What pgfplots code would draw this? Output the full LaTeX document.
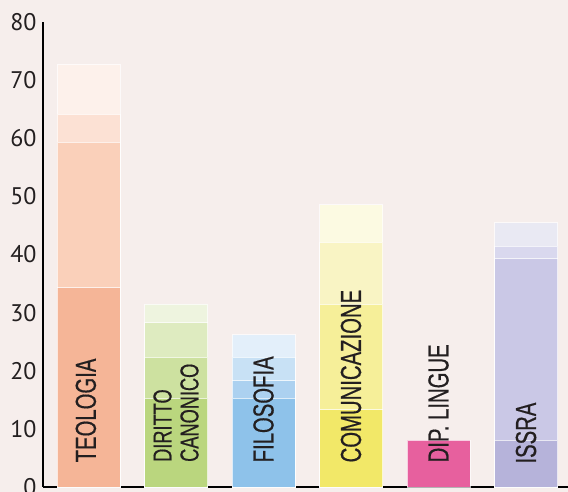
\documentclass[border=0pt]{standalone}
\usepackage{pgfplots}
\pgfplotsset{compat=1.18}
\usepackage{fontspec}
\setmainfont{PT Sans}
\newfontfamily\cond[FakeStretch=0.7,FakeBold=0.4]{Liberation Sans}
\definecolor{bgc}{HTML}{F6EEEC}
\definecolor{txt}{HTML}{231F20}
% Teologia
\definecolor{teoA}{HTML}{F5B597}
\definecolor{teoB}{HTML}{FAD0BA}
\definecolor{teoC}{HTML}{FCE1D4}
\definecolor{teoD}{HTML}{FDF1EB}
% Diritto
\definecolor{dirA}{HTML}{BAD67E}
\definecolor{dirB}{HTML}{CDE1A0}
\definecolor{dirC}{HTML}{DEEBC0}
\definecolor{dirD}{HTML}{EEF4DF}
% Filosofia
\definecolor{filA}{HTML}{8EC2EA}
\definecolor{filB}{HTML}{ACD1F0}
\definecolor{filC}{HTML}{C8E1F5}
\definecolor{filD}{HTML}{E3EFFA}
% Comunicazione
\definecolor{comA}{HTML}{F2E868}
\definecolor{comB}{HTML}{F6EF99}
\definecolor{comC}{HTML}{F9F4C4}
\definecolor{comD}{HTML}{FCFAE2}
% Dip Lingue
\definecolor{dipA}{HTML}{E7609E}
% ISSRA
\definecolor{issA}{HTML}{B6B3DA}
\definecolor{issB}{HTML}{CAC8E6}
\definecolor{issC}{HTML}{D9D8EE}
\definecolor{issD}{HTML}{E9E9F3}
\begin{document}
\begin{tikzpicture}
\fill[bgc] (-43pt,-5pt) rectangle (525pt,487pt);
\begin{axis}[
  scale only axis, width=525pt, height=465pt,
  at={(0pt,0pt)}, anchor=south west,
  xmin=-0.52, xmax=5.48, ymin=0, ymax=80,
  axis x line=bottom, axis y line=left,
  axis line style={-, line width=2.4pt, black},
  ytick={0,10,...,80}, xtick=\empty,
  major tick length=0pt,
  tick label style={font=\fontsize{24}{24}\selectfont, text=txt},
  yticklabel style={xshift=-3pt},
  /pgf/number format/assume math mode=true,
  clip=false,
  every axis plot/.append style={ybar, bar width=0.72, bar shift=0pt, draw=white, draw opacity=0.7, line width=0.5pt},
]
% TEOLOGIA
\addplot[fill=teoD] coordinates {(0,72.8)};
\addplot[fill=teoC] coordinates {(0,64.1)};
\addplot[fill=teoB] coordinates {(0,59.3)};
\addplot[fill=teoA] coordinates {(0,34.3)};
% DIRITTO CANONICO
\addplot[fill=dirD] coordinates {(1,31.5)};
\addplot[fill=dirC] coordinates {(1,28.3)};
\addplot[fill=dirB] coordinates {(1,22.4)};
\addplot[fill=dirA] coordinates {(1,15.3)};
% FILOSOFIA
\addplot[fill=filD] coordinates {(2,26.2)};
\addplot[fill=filC] coordinates {(2,22.4)};
\addplot[fill=filB] coordinates {(2,18.3)};
\addplot[fill=filA] coordinates {(2,15.3)};
% COMUNICAZIONE
\addplot[fill=comD] coordinates {(3,48.6)};
\addplot[fill=comC] coordinates {(3,42.1)};
\addplot[fill=comB] coordinates {(3,31.4)};
\addplot[fill=comA] coordinates {(3,13.3)};
% DIP. LINGUE
\addplot[fill=dipA] coordinates {(4,8.1)};
% ISSRA
\addplot[fill=issD] coordinates {(5,45.5)};
\addplot[fill=issC] coordinates {(5,41.4)};
\addplot[fill=issB] coordinates {(5,39.3)};
\addplot[fill=issA] coordinates {(5,8.1)};

\begin{scope}[every node/.style={rotate=90, anchor=west, inner sep=0pt, text=txt, font=\cond\fontsize{29}{29}\selectfont}]
\node at (axis cs:-0.03,4.2) {TEOLOGIA};
\node[align=left, font=\cond\fontsize{26}{27}\selectfont] at (axis cs:1,4.3) {DIRITTO\\CANONICO};
\node at (axis cs:2,4.2) {FILOSOFIA};
\node at (axis cs:3,4.2) {COMUNICAZIONE};
\node at (axis cs:4,4.2) {DIP. LINGUE};
\node at (axis cs:5,4.0) {ISSRA};
\end{scope}
\end{axis}
\pgfresetboundingbox
\path (-43pt,-5pt) rectangle (525pt,487pt);
\end{tikzpicture}
\end{document}
